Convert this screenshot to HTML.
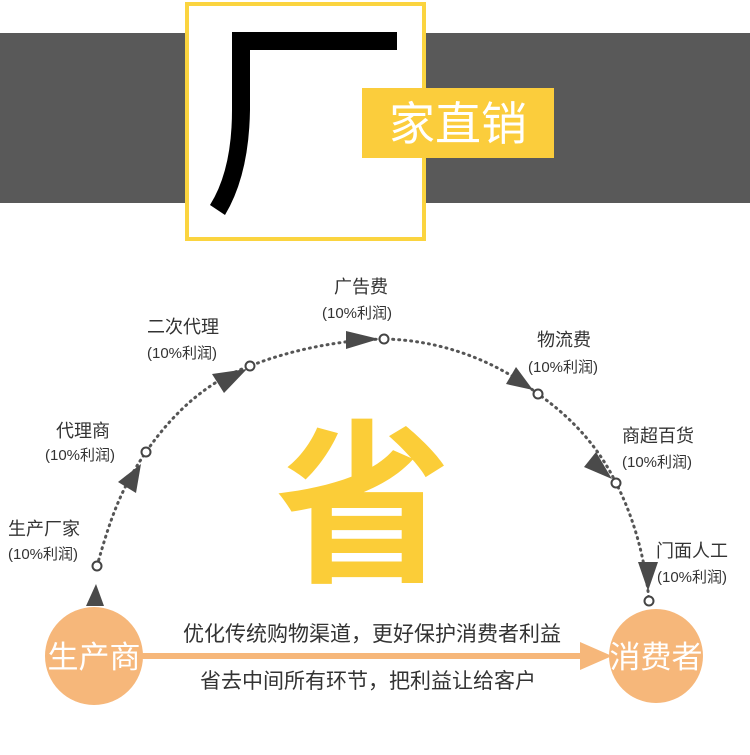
<!DOCTYPE html>
<html><head><meta charset="utf-8"><style>
body{margin:0;width:750px;height:755px;overflow:hidden;background:#fff;font-family:"Liberation Sans","Noto Sans CJK SC",sans-serif}
</style></head><body>
<svg width="750" height="755" xmlns="http://www.w3.org/2000/svg" style="position:absolute;left:0;top:0">
<rect x="0" y="33" width="750" height="170" fill="#595959"/>
<rect x="187" y="4" width="237" height="235" fill="#fff" stroke="#fbd43f" stroke-width="4"/>
<path d="M232 32 H397 V50 H250 V110 Q249 175 225 215 L210 205 Q232 170 232 110 Z" fill="#000"/>
<rect x="362" y="88" width="192" height="70" fill="#fbcd3c"/>
<text x="458" y="140" font-size="46" fill="#fff" text-anchor="middle" font-family="Liberation Sans,Noto Sans CJK SC,sans-serif">家直销</text>
<text x="363" y="568" font-size="176" font-weight="bold" fill="#fbcd38" text-anchor="middle" font-family="Noto Sans CJK SC,sans-serif">省</text>
<path d="M97 566 C110 520 120 490 146 452 C175 410 210 380 250 366 C290 350 340 340 384 339 C440 340 495 360 538 394 C575 420 600 450 616 483 C635 520 645 560 649 600" fill="none" stroke="#555" stroke-width="3" stroke-dasharray="1 5" stroke-linecap="round"/>
<g fill="#fff" stroke="#444" stroke-width="2">
<circle cx="97" cy="566" r="4.5"/><circle cx="146" cy="452" r="4.5"/><circle cx="250" cy="366" r="4.5"/><circle cx="384" cy="339" r="4.5"/><circle cx="538" cy="394" r="4.5"/><circle cx="616" cy="483" r="4.5"/><circle cx="649" cy="601" r="4.5"/>
</g>
<g fill="#4a4a4a">
<polygon points="96,584 86,606 104,606"/>
<polygon points="141,464 118,482 136,493"/>
<polygon points="247,369 212,374 224,393"/>
<polygon points="379,339 346,331 346,349"/>
<polygon points="533,390 506,384 516,367"/>
<polygon points="612,479 596,452 584,467"/>
<polygon points="648,591 638,562 658,562"/>
</g>
<g font-size="18" fill="#333">
<text x="8" y="535">生产厂家</text>
<text x="56" y="437">代理商</text>
<text x="147" y="333">二次代理</text>
<text x="334" y="293">广告费</text>
<text x="537" y="346">物流费</text>
<text x="622" y="442">商超百货</text>
<text x="656" y="557">门面人工</text>
</g>
<g font-size="15" fill="#333">
<text x="8" y="559">(10%利润)</text>
<text x="45" y="460">(10%利润)</text>
<text x="147" y="358">(10%利润)</text>
<text x="322" y="318">(10%利润)</text>
<text x="528" y="372">(10%利润)</text>
<text x="622" y="467">(10%利润)</text>
<text x="657" y="582">(10%利润)</text>
</g>
<circle cx="94" cy="656" r="49" fill="#f6b77a"/>
<circle cx="656" cy="656" r="47" fill="#f6b77a"/>
<rect x="140" y="653" width="445" height="6" fill="#f6b77a"/>
<polygon points="580,642 612,656 580,670" fill="#f6b77a"/>
<text x="94" y="668" font-size="31" fill="#fff" text-anchor="middle">生产商</text>
<text x="656" y="668" font-size="31" fill="#fff" text-anchor="middle">消费者</text>
<text x="372" y="641" font-size="21" fill="#333" text-anchor="middle">优化传统购物渠道，更好保护消费者利益</text>
<text x="368" y="688" font-size="21" fill="#333" text-anchor="middle">省去中间所有环节，把利益让给客户</text>
</svg>
</body></html>
